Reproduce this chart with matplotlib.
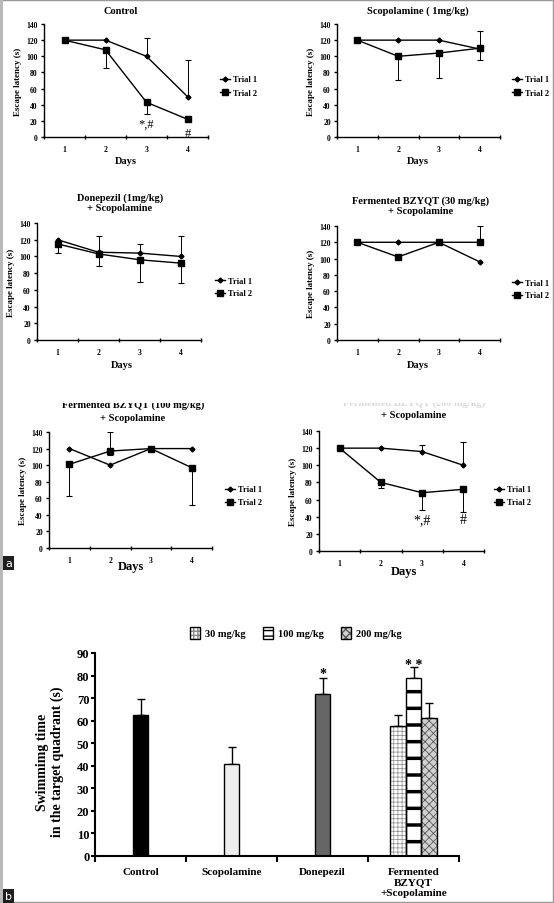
import numpy as np
import matplotlib
matplotlib.use("Agg")
import matplotlib.pyplot as plt
from matplotlib.lines import Line2D
from matplotlib.patches import Patch, Rectangle
from matplotlib.legend_handler import HandlerTuple

plt.rcParams["font.family"] = ["Liberation Serif", "DejaVu Serif"]
plt.rcParams["font.weight"] = "bold"
plt.rcParams["axes.labelweight"] = "bold"

# Data - escape latency (s), days 1-4

days = [1, 2, 3, 4]

ctrl_t1 = [120, 120, 100, 50]
ctrl_t1_up = [0, 0, 23, 46]
ctrl_t2 = [120, 108, 43, 22]
ctrl_t2_dn = [0, 22, 15, 0]

scop_t1 = [120, 120, 120, 109]
scop_t1_up = [0, 0, 0, 22]
scop_t2 = [120, 100, 104, 110]
scop_t2_dn = [0, 29, 31, 14]

done_t1 = [120, 105, 104, 100]
done_t1_up = [0, 20, 11, 25]
done_t2 = [115, 103, 96, 92]
done_t2_dn = [11, 14, 27, 24]

b30_t1 = [120, 120, 120, 96]
b30_t2 = [120, 102, 120, 120]
b30_t2_up = [0, 0, 0, 20]

b100_t1 = [120, 100, 120, 120]
b100_t2 = [101, 117, 120, 97]
b100_t2_up = [0, 23, 0, 0]
b100_t2_dn = [38, 5, 0, 45]

b200_t1 = [120, 120, 116, 100]
b200_t1_up = [0, 0, 8, 27]
b200_t2 = [120, 80, 68, 72]
b200_t2_dn = [0, 6, 20, 26]

# Data - swimming time in target quadrant (s)

bar_cats = ["Control", "Scopolamine", "Donepezil", "Fermented\nBZYQT\n+Scopolamine"]
single_vals = [62.5, 41, 72]
single_err = [7, 7.5, 7]
dose_labels = ["30 mg/kg", "100 mg/kg", "200 mg/kg"]
dose_vals = [57.5, 79, 61]
dose_err = [5, 5, 7]

# Figure helpers

W, H = 554, 904
fig = plt.figure(figsize=(W / 100, H / 100), dpi=100)


def fx(x):
    return x / W


def fy(y):
    return 1 - y / H


def px_axes(x0, y0, x1, y1):
    return fig.add_axes([fx(x0), fy(y1), (x1 - x0) / W, (y1 - y0) / H])


def err_lines(ax, y, dn, up):
    for d, v, lo, hi in zip(days, y, dn, up):
        if hi > 0:
            ax.vlines(d, v, v + hi, color="k", lw=0.7, zorder=1)
            ax.plot(d, v + hi, marker="_", ms=5, mew=0.8, color="k", zorder=1)
        if lo > 0:
            ax.vlines(d, v - lo, v, color="k", lw=0.7, zorder=1)
            ax.plot(d, v - lo, marker="_", ms=5, mew=0.8, color="k", zorder=1)


def latency_panel(box, t1, t2, t1_dn=None, t1_up=None, t2_dn=None, t2_up=None,
                  legend_xy=(0, 0)):
    zero = [0, 0, 0, 0]
    ax = px_axes(*box)
    err_lines(ax, t1, t1_dn or zero, t1_up or zero)
    err_lines(ax, t2, t2_dn or zero, t2_up or zero)
    ax.plot(days, t1, color="k", lw=1, marker="D", ms=2.5, zorder=3)
    ax.plot(days, t2, color="k", lw=1, marker="s", ms=4.5, zorder=3)
    ax.set_xlim(0.5, 4.5)
    ax.set_ylim(0, 140)
    ax.set_yticks(range(0, 141, 20))
    ax.set_xticks(days)
    ax.set_xticks([0.5, 1.5, 2.5, 3.5, 4.5], minor=True)
    ax.tick_params(axis="x", which="major", length=0, labelsize=5.5, pad=6)
    ax.tick_params(axis="x", which="minor", length=3, width=1, direction="inout")
    ax.tick_params(axis="y", length=2.5, width=1, labelsize=5.5, pad=2)
    for s in ["top", "right"]:
        ax.spines[s].set_visible(False)
    for s in ["left", "bottom"]:
        ax.spines[s].set_linewidth(1)
    ax.set_ylabel("Escape latency (s)", fontsize=6.5, labelpad=3)
    handles = [Line2D([], [], color="k", lw=1, marker="D", ms=2.5),
               Line2D([], [], color="k", lw=1, marker="s", ms=4.5)]
    fig.legend(handles, ["Trial 1", "Trial 2"], loc="center left",
               bbox_to_anchor=(fx(legend_xy[0]), fy(legend_xy[1])),
               frameon=False, fontsize=6, handlelength=1.2,
               handletextpad=0.3, labelspacing=0.6, borderpad=0)
    return ax


# Panel a - escape latency

ax1 = latency_panel((44, 25, 208, 138), ctrl_t1, ctrl_t2, t1_up=ctrl_t1_up,
                    t2_dn=ctrl_t2_dn, legend_xy=(216, 87))
ax1.text(3, 17, "*,#", ha="center", va="center", fontsize=9, fontweight="normal")
ax1.text(4, 5, "#", ha="center", va="center", fontsize=9, fontweight="normal")
fig.text(fx(121), fy(11), "Control", ha="center", va="center", fontsize=7.5)
fig.text(fx(126), fy(161), "Days", ha="center", va="center", fontsize=7.5)

ax2 = latency_panel((337, 25, 500, 138), scop_t1, scop_t2, t1_up=scop_t1_up,
                    t2_dn=scop_t2_dn, legend_xy=(508, 87))
fig.text(fx(418), fy(11), "Scopolamine ( 1mg/kg)", ha="center", va="center", fontsize=7.5)
fig.text(fx(418), fy(161), "Days", ha="center", va="center", fontsize=7.5)

ax3 = latency_panel((37, 224, 201, 341), done_t1, done_t2, t1_up=done_t1_up,
                    t2_dn=done_t2_dn, legend_xy=(211, 288))
fig.text(fx(120), fy(203), "Donepezil (1mg/kg)\n+ Scopolamine", ha="center",
         va="center", fontsize=7.5, linespacing=1.1)
fig.text(fx(122), fy(366), "Days", ha="center", va="center", fontsize=7.5)

ax4 = latency_panel((337, 227, 500, 341), b30_t1, b30_t2, t2_up=b30_t2_up,
                    legend_xy=(508, 290))
fig.text(fx(421), fy(206), "Fermented BZYQT (30 mg/kg)\n+ Scopolamine", ha="center",
         va="center", fontsize=7.5, linespacing=1.1)
fig.text(fx(418), fy(366), "Days", ha="center", va="center", fontsize=7.5)

ax5 = latency_panel((49, 433, 212, 549), b100_t1, b100_t2, t2_up=b100_t2_up,
                    t2_dn=b100_t2_dn, legend_xy=(221, 497))
fig.text(fx(133), fy(405), "Fermented BZYQT (100 mg/kg)", ha="center",
         va="center", fontsize=7.5)
fig.text(fx(133), fy(419), "+ Scopolamine", ha="center", va="center", fontsize=7.5)
fig.text(fx(131), fy(567), "Days", ha="center", va="center", fontsize=9)

ax6 = latency_panel((319, 432, 484, 552), b200_t1, b200_t2, t1_up=b200_t1_up,
                    t2_dn=b200_t2_dn, legend_xy=(490, 497))
ax6.text(3, 37, "*,#", ha="center", va="center", fontsize=10, fontweight="normal")
ax6.text(4, 37, "#", ha="center", va="center", fontsize=10, fontweight="normal")
fig.text(fx(414), fy(403), "Fermented BZYQT (200 mg/kg)", ha="center",
         va="center", fontsize=7.5, color="#d8d8d8")
fig.text(fx(414), fy(416), "+ Scopolamine", ha="center", va="center", fontsize=7.5)
fig.text(fx(404), fy(572), "Days", ha="center", va="center", fontsize=9)

# white band hiding the top half of the cut-off titles
fig.patches.append(Rectangle((0.01, fy(404)), 0.98, (404 - 392) / H,
                             transform=fig.transFigure, facecolor="white",
                             edgecolor="none", zorder=5))

# Panel b - swimming time

axb = px_axes(95, 654, 459, 857)
x = np.arange(len(bar_cats))
bw = 0.175
single_colors = ["black", "#eeeeee", "#666666"]
axb.bar(x[:3], single_vals, width=bw, color=single_colors, edgecolor="k", lw=1, zorder=2)
axb.errorbar(x[:3], single_vals, yerr=[[0] * 3, single_err], fmt="none",
             ecolor="k", elinewidth=1, capsize=3, capthick=1, zorder=1)

dose_offsets = [-bw, 0, bw]
dose_face = ["white", "white", "#d0d0d0"]
dose_hatch = ["++++", "-", "xxxx"]
dose_leg_hatch = ["++++", "---", "xxxx"]
dose_hcol = ["#8a8a8a", "black", "#5a5a5a"]
dose_hlw = [0.5, 2.5, 0.6]
legend_handles = []
for off, v, e, fc, hh, lh, hc, hlw in zip(dose_offsets, dose_vals, dose_err, dose_face,
                                           dose_hatch, dose_leg_hatch, dose_hcol, dose_hlw):
    with plt.rc_context({"hatch.linewidth": hlw}):
        axb.bar(x[3] + off, v, width=bw, color=fc, hatch=hh, edgecolor=hc, lw=0, zorder=2)
    with plt.rc_context({"hatch.linewidth": min(hlw, 1.2)}):
        hp = Patch(facecolor=fc, hatch=lh, edgecolor=hc, lw=0)
    axb.bar(x[3] + off, v, width=bw, fill=False, edgecolor="k", lw=1, zorder=3)
    axb.errorbar(x[3] + off, v, yerr=[[0], [e]], fmt="none", ecolor="k",
                 elinewidth=1, capsize=3, capthick=1, zorder=1)
    legend_handles.append((hp, Patch(fill=False, edgecolor="k", lw=1)))

axb.text(x[2], 81, "*", ha="center", va="center", fontsize=10)
axb.text(x[3], 85, "* *", ha="center", va="center", fontsize=10)

axb.set_xlim(-0.5, 3.5)
axb.set_ylim(0, 90)
axb.set_yticks(range(0, 91, 10))
axb.set_xticks([-0.5, 0.5, 1.5, 2.5, 3.5])
axb.set_xticklabels([])
axb.set_xticks(x, minor=True)
axb.set_xticklabels(bar_cats, minor=True, fontsize=8)
axb.tick_params(axis="x", which="major", length=4, width=1.5)
axb.tick_params(axis="x", which="minor", length=0, pad=8)
axb.tick_params(axis="y", length=3, width=1.5, labelsize=9, pad=1)
for s in ["top", "right"]:
    axb.spines[s].set_visible(False)
for s in ["left", "bottom"]:
    axb.spines[s].set_linewidth(1.5)

fig.text(fx(50), fy(762), "Swimmimg time\nin the target quadrant (s)", rotation=90,
         ha="center", va="center", fontsize=10, linespacing=1.15)

fig.legend(legend_handles, dose_labels, loc="center",
           bbox_to_anchor=(fx(296), fy(634)), ncol=3, frameon=False,
           fontsize=7.5, handlelength=1.0, handleheight=1.4, handletextpad=0.5,
           columnspacing=1.6, handler_map={tuple: HandlerTuple(ndivide=1)})

# Frame and panel letters

fig.patches.append(Rectangle((0, 0), 1, 1, transform=fig.transFigure,
                             fill=False, edgecolor="#9a9a9a", lw=2.5, zorder=6))
fig.patches.append(Rectangle((0, 0), fx(3), 1, transform=fig.transFigure,
                             facecolor="#b8b8b8", edgecolor="none", zorder=6))
for lab, yy in [("a", 564), ("b", 897)]:
    fig.text(fx(8.5), fy(yy), lab, ha="center", va="center", fontsize=8,
             color="white", family="DejaVu Sans", fontweight="normal",
             bbox=dict(boxstyle="square,pad=0.15", facecolor="#1e1e1e", edgecolor="none"),
             zorder=7)

fig.savefig("out.png", dpi=100)
